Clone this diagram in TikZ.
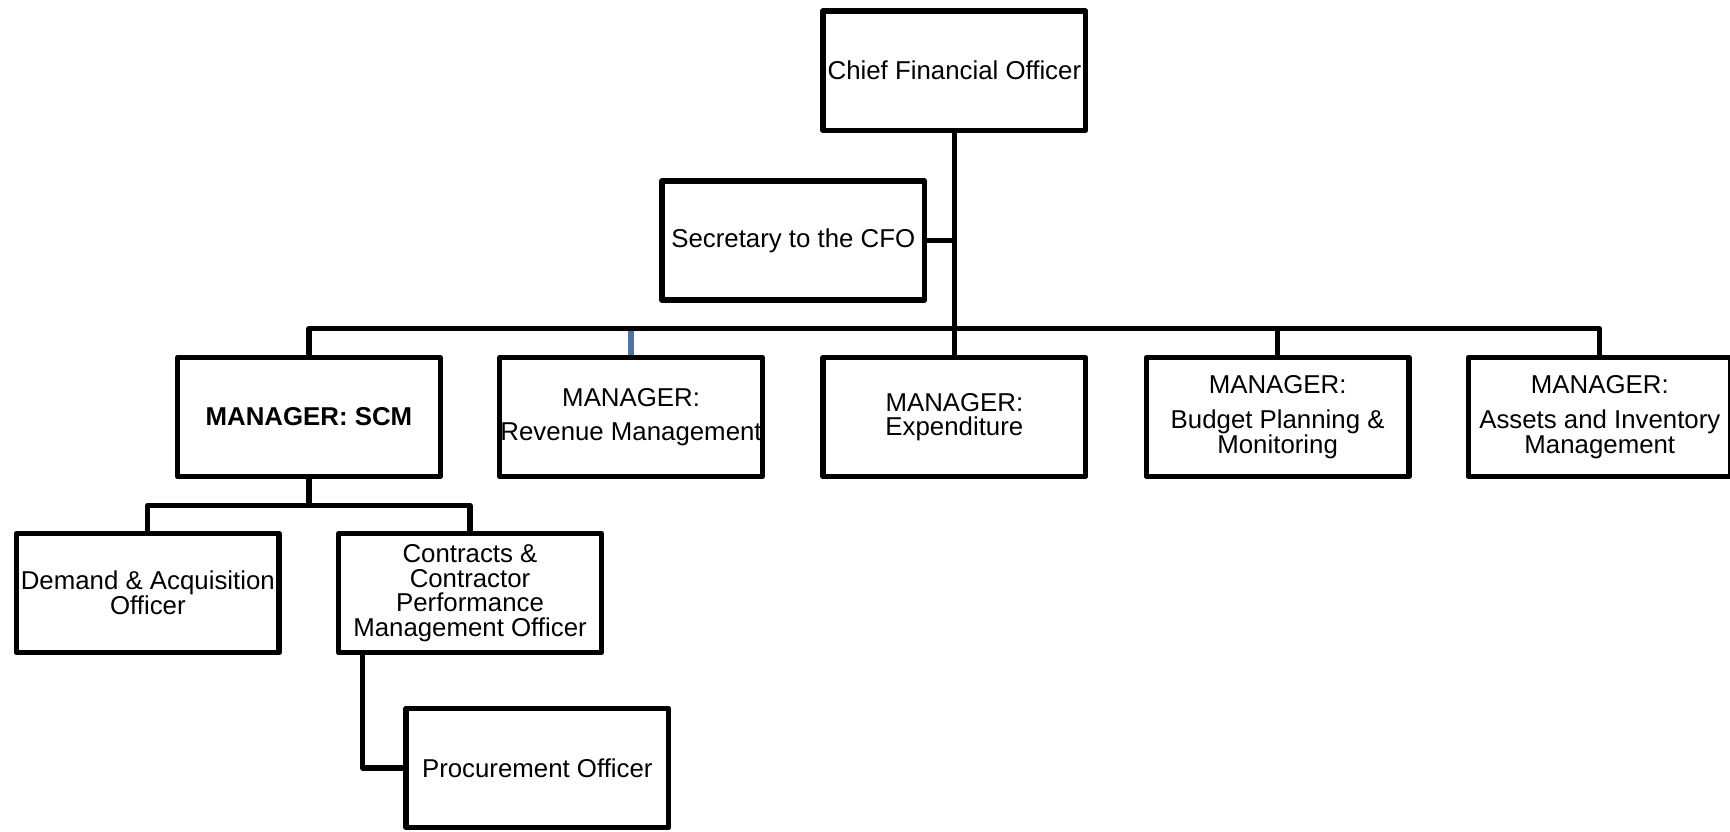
\documentclass[tikz,border=0pt]{standalone}
\usepackage{fontspec}
\setmainfont{Liberation Sans}
\usetikzlibrary{positioning}
\definecolor{tickblue}{RGB}{79,114,165}

\begin{document}
\begin{tikzpicture}[x=0.5pt,y=-0.5pt,line width=2.4pt,line join=round,
post/.style={draw,line width=2.4pt,minimum width=119pt,minimum height=54pt,inner sep=0pt,align=center,
font=\fontsize{11.7}{11.2}\selectfont}]
\useasboundingbox (0,0) rectangle (1568,754);
\clip (0,0) rectangle (1568,754);
\node[post] (cfo) at (865,64) {Chief Financial Officer};
\node[post] (sec) at (719,218) {Secretary to the CFO};
\node[post] (scm) at (280,378) {\bfseries MANAGER: SCM};
\node[post] (rev) at (572,378) {MANAGER:\\[4.5pt]Revenue Management};
\node[post] (exp) at (865,378) {MANAGER:\\Expenditure};
\node[post] (bud) at (1158,378) {MANAGER:\\[4.5pt]Budget Planning \&\\Monitoring};
\node[post] (ast) at (1450,378) {MANAGER:\\[4.5pt]Assets and Inventory\\Management};
\node[post] (dem) at (134,537.5) {Demand \& Acquisition\\Officer};
\node[post] (con) at (426,537.5) {Contracts \&\\Contractor\\Performance\\Management Officer};
\node[post] (pro) at (487,696) {Procurement Officer};
\coordinate (bus) at (0,298);
\coordinate (sub) at (0,458);
\draw (cfo.south) -- (cfo |- bus);
\draw (sec.east) -- (sec.east -| cfo.south);
\draw (scm.north) -- (scm |- bus) -- (ast |- bus) -- (ast.north);
\draw (exp.north) -- (exp |- bus);
\draw (bud.north) -- (bud |- bus);
\draw[tickblue] (rev.north) -- ([yshift=-1.2pt]rev |- bus);
\draw (scm.south) -- (scm |- sub);
\draw (dem.north) -- (dem |- sub) -- (con |- sub) -- (con.north);
\draw ([xshift=12pt]con.south west) |- (pro.west);
\end{tikzpicture}
\end{document}
